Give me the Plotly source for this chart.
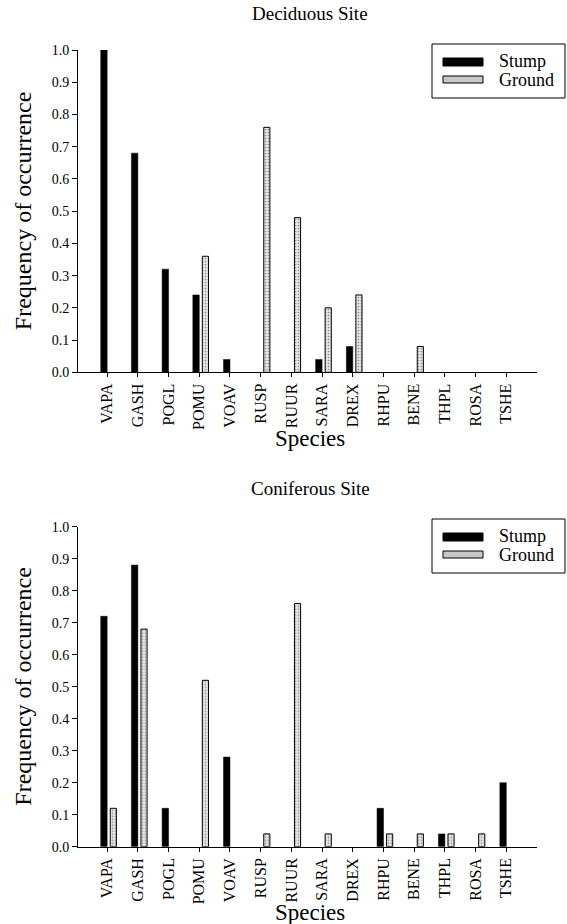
import plotly.graph_objects as go

species = ["VAPA", "GASH", "POGL", "POMU", "VOAV", "RUSP", "RUUR", "SARA",
           "DREX", "RHPU", "BENE", "THPL", "ROSA", "TSHE"]

decid_stump = [1.00, 0.68, 0.32, 0.24, 0.04, 0.0, 0.0, 0.04, 0.08, 0.0, 0.0, 0.0, 0.0, 0.0]
decid_ground = [0.0, 0.0, 0.0, 0.36, 0.0, 0.76, 0.48, 0.20, 0.24, 0.0, 0.08, 0.0, 0.0, 0.0]
conif_stump = [0.72, 0.88, 0.12, 0.0, 0.28, 0.0, 0.0, 0.0, 0.0, 0.12, 0.0, 0.04, 0.0, 0.20]
conif_ground = [0.12, 0.68, 0.0, 0.52, 0.0, 0.04, 0.76, 0.04, 0.0, 0.04, 0.04, 0.04, 0.04, 0.0]

y_ticks = [0.0, 0.1, 0.2, 0.3, 0.4, 0.5, 0.6, 0.7, 0.8, 0.9, 1.0]

# body margin is removed by a post script, so figure pixels == page pixels
W, H = 567, 924
FONT = "Liberation Serif, Times New Roman, serif"


def px_x(v):
    return v / W


def px_y(v):
    return 1 - v / H


def nz(vals):
    return [v if v != 0 else None for v in vals]


fig = go.Figure()

panels = [
    ("Deciduous Site", decid_stump, decid_ground, "x", "y", 14, 50.0, 372.3, 438, 0),
    ("Coniferous Site", conif_stump, conif_ground, "x2", "y2", 488, 526.7, 846.7, 912, 475),
]

ground_pattern = dict(shape=".", fgcolor="#333333", bgcolor="#e6e6e6",
                      size=3, solidity=0.25)

annotations = []
shapes = []
for title, stump, ground, xa, ya, title_y, top_px, bot_px, spec_y, dy in panels:
    fig.add_trace(go.Bar(x=species, y=nz(stump), xaxis=xa, yaxis=ya, name="Stump",
                         width=0.21, offset=-0.21,
                         marker=dict(color="black", line=dict(color="black", width=0.5)),
                         showlegend=False))
    fig.add_trace(go.Bar(x=species, y=nz(ground), xaxis=xa, yaxis=ya, name="Ground",
                         width=0.2, offset=0.1,
                         marker=dict(color="#e6e6e6", pattern=ground_pattern,
                                     line=dict(color="black", width=1)),
                         showlegend=False))
    annotations.append(dict(text=title, x=px_x(310), y=px_y(title_y), xref="paper", yref="paper",
                            showarrow=False, xanchor="center", yanchor="middle",
                            font=dict(family=FONT, size=19, color="black")))
    annotations.append(dict(text="Species", x=px_x(310), y=px_y(spec_y), xref="paper", yref="paper",
                            showarrow=False, xanchor="center", yanchor="middle",
                            font=dict(family=FONT, size=23, color="black")))
    annotations.append(dict(text="Frequency of occurrence", x=px_x(23), y=px_y((top_px + bot_px) / 2),
                            xref="paper", yref="paper", textangle=-90,
                            showarrow=False, xanchor="center", yanchor="middle",
                            font=dict(family=FONT, size=24, color="black")))
    # legend box drawn manually
    shapes.append(dict(type="rect", xref="paper", yref="paper",
                       x0=px_x(432), x1=px_x(565), y0=px_y(44 + dy), y1=px_y(98 + dy),
                       line=dict(color="black", width=1), fillcolor="white"))
    shapes.append(dict(type="rect", xref="paper", yref="paper",
                       x0=px_x(443), x1=px_x(483), y0=px_y(58 + dy), y1=px_y(66 + dy),
                       line=dict(color="black", width=1), fillcolor="black"))
    shapes.append(dict(type="rect", xref="paper", yref="paper",
                       x0=px_x(443), x1=px_x(483), y0=px_y(76 + dy), y1=px_y(83 + dy),
                       line=dict(color="black", width=1), fillcolor="#c8c8c8"))
    annotations.append(dict(text="Stump", x=px_x(497), y=px_y(61 + dy), xref="paper", yref="paper",
                            showarrow=False, xanchor="left", yanchor="middle",
                            font=dict(family=FONT, size=18, color="black")))
    annotations.append(dict(text="Ground", x=px_x(497), y=px_y(80 + dy), xref="paper", yref="paper",
                            showarrow=False, xanchor="left", yanchor="middle",
                            font=dict(family=FONT, size=18, color="black")))

common_x = dict(type="category", range=[-0.95, 14.0], showline=True, linecolor="black",
                linewidth=1, ticks="outside", ticklen=4, tickcolor="black", tickangle=-90,
                showgrid=False, zeroline=False, automargin=False,
                tickfont=dict(family=FONT, size=16, color="black"), fixedrange=True)
common_y = dict(range=[0, 1.0], showline=True, linecolor="black", linewidth=1,
                ticks="outside", ticklen=5, tickcolor="black", tickvals=y_ticks,
                ticktext=[f"{v:.1f}" for v in y_ticks], showgrid=False, zeroline=False,
                automargin=False,
                tickfont=dict(family=FONT, size=14, color="black"), fixedrange=True)

fig.update_layout(
    width=W, height=H,
    margin=dict(l=0, r=0, t=0, b=0, pad=0),
    paper_bgcolor="white", plot_bgcolor="white",
    barmode="overlay",
    showlegend=False,
    font=dict(family=FONT, color="black"),
    xaxis=dict(domain=[px_x(78), px_x(537)], anchor="y", **common_x),
    yaxis=dict(domain=[px_y(372.3), px_y(50.0)], anchor="x", **common_y),
    xaxis2=dict(domain=[px_x(78), px_x(537)], anchor="y2", **common_x),
    yaxis2=dict(domain=[px_y(846.7), px_y(526.7)], anchor="x2", **common_y),
    annotations=annotations,
    shapes=shapes,
)

fig.write_html("out.html", config={"displayModeBar": False},
               post_script="document.body.style.margin='0px';document.body.style.overflow='hidden';")
